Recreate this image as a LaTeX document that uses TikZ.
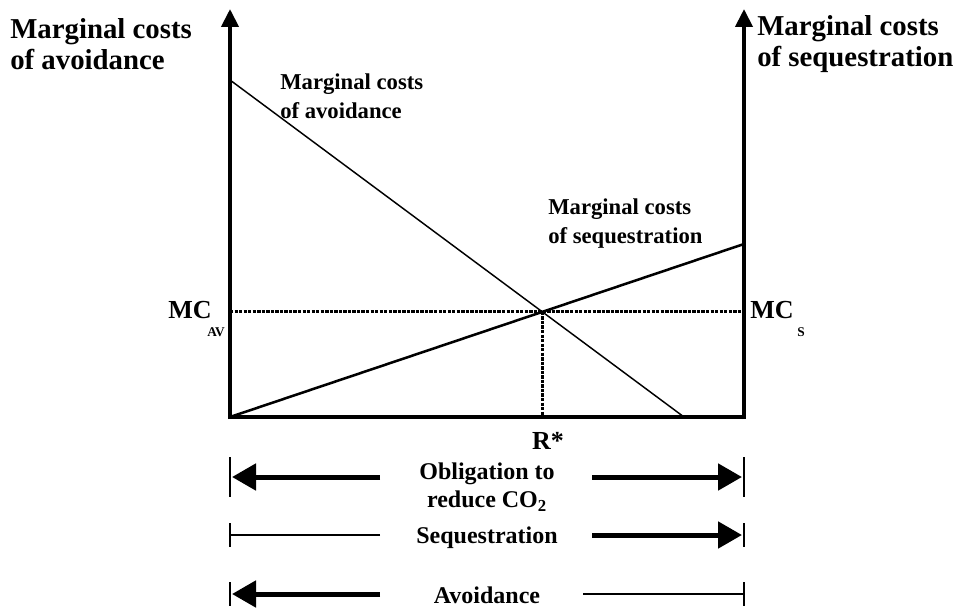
\documentclass[tikz,border=0pt]{standalone}
\usepackage{fontspec}
\setmainfont{Liberation Serif}
\usepackage{tikz}
\usetikzlibrary{arrows.meta,positioning}
\tikzstyle{axis}=[line width=3pt, -{Triangle[length=13.5pt,width=12.75pt]}]
\tikzstyle{fatarrow}=[line width=3.75pt, -{Triangle[length=18pt,width=19.5pt]}]
\tikzstyle{avcurve}=[line width=1.1pt]
\tikzstyle{seqcurve}=[line width=1.9pt]
\tikzstyle{thinrule}=[line width=1.9pt]
\tikzstyle{bar}=[line width=1.2pt]
\tikzstyle{fatbar}=[line width=2.2pt]
\tikzstyle{guide}=[line width=2.2pt, dash pattern=on 2.5pt off 0.9pt]
\tikzstyle{axislbl}=[font=\fontsize{21.6}{23.3}\selectfont\bfseries, align=left, inner sep=0pt]
\tikzstyle{curvelbl}=[font=\fontsize{17}{21.7}\selectfont\bfseries, align=left, inner sep=0pt]
\tikzstyle{mclbl}=[font=\fontsize{19.5}{20}\selectfont\bfseries, inner sep=0pt]
\tikzstyle{sublbl}=[font=\fontsize{10}{10}\selectfont\bfseries, inner sep=0pt]
\tikzstyle{rowlbl}=[font=\fontsize{18}{21}\selectfont\bfseries, align=center, inner sep=0pt]

\begin{document}
\begin{tikzpicture}[x=0.75pt, y=-0.75pt]
            \useasboundingbox (0,0) rectangle (962,610);
            \coordinate (O) at (230,417);
            \coordinate (E) at (744,417);
            \coordinate (Otop) at (230,9);
            \coordinate (Etop) at (744,9);
            \coordinate (avtop) at (230,80);
            \coordinate (avend) at (684,417);
            \coordinate (seqend) at (744,244);
            \coordinate (eq) at (intersection of avtop--avend and O--seqend);

            \draw[avcurve] (avtop) -- (avend);
            \draw[seqcurve] (O) -- (seqend);
            \draw[guide] (O |- eq) -- (E |- eq);
            \draw[guide] (eq) -- (eq |- O);
            \draw[line width=3pt] ([xshift=-1.5pt]O) -- ([xshift=1.5pt]E);
            \draw[axis] ([yshift=-1.5pt]O) -- (Otop);
            \draw[axis] ([yshift=-1.5pt]E) -- (Etop);

            \node[axislbl, anchor=west] (ytitleL) at (10,44) {Marginal costs\\of avoidance};
            \node[axislbl, anchor=west] (ytitleR) at (757,44) {Marginal costs\\of sequestration};
            \node[curvelbl, anchor=west] (avlbl) at (280,96) {Marginal costs\\of avoidance};
            \node[curvelbl, anchor=west] (seqlbl) at (548,224) {Marginal costs\\of sequestration};

            \node[mclbl, anchor=west] (mcav) at (168,310) {MC};
            \node[sublbl, anchor=west] (mcavsub) at (207,332) {AV};
            \node[mclbl, anchor=west] (mcs) at (750,310) {MC};
            \node[sublbl, anchor=west] (mcssub) at (797,332) {S};
            \node[mclbl] (rstar) at (548,441) {R*};

            \node[rowlbl] (oblig) at (487,487) {Obligation to\\reduce CO\textsubscript{2}};
            \node[rowlbl] (seqrow) at (487,538) {Sequestration};
            \node[rowlbl] (avrow) at (487,595) {Avoidance};

            \coordinate (obL) at (230,477);
            \coordinate (obR) at (744,477);
            \coordinate (sqL) at (230,535);
            \coordinate (sqR) at (744,535);
            \coordinate (avL) at (230,594);
            \coordinate (avR) at (744,594);

            \draw[fatarrow] (380,477) -- ([xshift=1.5pt]obL);
            \draw[fatarrow] (592,477) -- ([xshift=-1.5pt]obR);
            \draw[bar] ([yshift=15pt]obL) -- ([yshift=-15pt]obL);
            \draw[bar] ([yshift=15pt]obR) -- ([yshift=-15pt]obR);

            \draw[thinrule] (380,535) -- (sqL);
            \draw[fatarrow] (592,535) -- ([xshift=-1.5pt]sqR);
            \draw[fatbar] ([yshift=9pt]sqL) -- ([yshift=-9pt]sqL);
            \draw[fatbar] ([yshift=9pt]sqR) -- ([yshift=-9pt]sqR);

            \draw[fatarrow] (380,594) -- ([xshift=1.5pt]avL);
            \draw[thinrule] (583,594) -- (avR);
            \draw[fatbar] ([yshift=9pt]avL) -- ([yshift=-9pt]avL);
            \draw[fatbar] ([yshift=9pt]avR) -- ([yshift=-9pt]avR);
        \end{tikzpicture}
\end{document}
